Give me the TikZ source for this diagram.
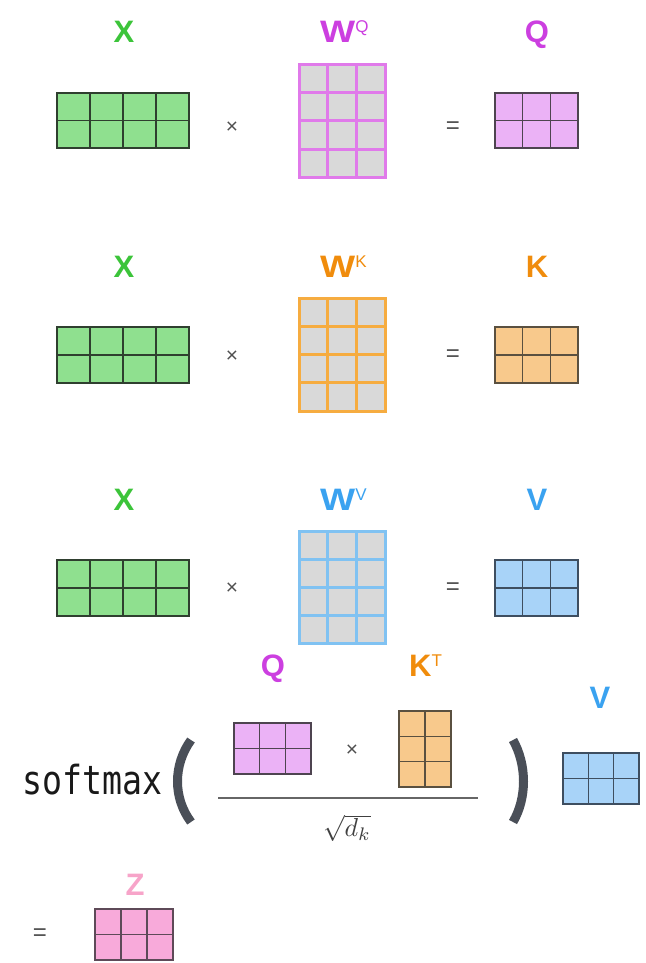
\documentclass[tikz,border=0pt]{standalone}
\usepackage{graphicx}
\usepackage{fontspec}
\setmainfont{Liberation Sans}
\newfontfamily\monof{DejaVu Sans Mono}
\definecolor{cgreen}{HTML}{3CC43A}
\definecolor{gfill}{HTML}{8FE08F}
\definecolor{gline}{HTML}{2F3F2F}
\definecolor{cmag}{HTML}{CC3FE0}
\definecolor{qfill}{HTML}{EBB2F6}
\definecolor{qline}{HTML}{4E4450}
\definecolor{wqline}{HTML}{E07AEA}
\definecolor{corange}{HTML}{F08C0C}
\definecolor{kfill}{HTML}{F8C98C}
\definecolor{kline}{HTML}{5A5040}
\definecolor{wkline}{HTML}{F6AC40}
\definecolor{cblue}{HTML}{3AA2F0}
\definecolor{vfill}{HTML}{A8D3F8}
\definecolor{vline}{HTML}{3E4E60}
\definecolor{wvline}{HTML}{80C2F2}
\definecolor{cpink}{HTML}{F7A4C9}
\definecolor{zfill}{HTML}{F8AADA}
\definecolor{zline}{HTML}{5E4A58}
\definecolor{wfill}{HTML}{D9D9D9}
\definecolor{opgray}{HTML}{505050}
\definecolor{pargray}{HTML}{4A4F58}
\newcommand\mgrid[7]{%
  \pgfmathsetmacro\mgdx{(#3-#1)/#5}%
  \pgfmathsetmacro\mgdy{(#4-#2)/#6}%
  \pgfmathtruncatemacro\mgc{#5-1}%
  \pgfmathtruncatemacro\mgr{#6-1}%
  \filldraw[#7] (#1,#2) rectangle (#3,#4);
  \foreach \k in {1,...,\mgc} \draw[#7] ({#1+\k*\mgdx},#2) -- ({#1+\k*\mgdx},#4);
  \foreach \k in {1,...,\mgr} \draw[#7] (#1,{#2+\k*\mgdy}) -- (#3,{#2+\k*\mgdy});
}
\begin{document}
\begin{tikzpicture}[x=1pt,y=-1pt,
  lbl/.style={font=\fontsize{31}{31}\selectfont\bfseries, inner sep=0pt, anchor=base},
  lblw/.style={lbl, anchor=base west},
  opx/.style={font=\fontsize{21}{21}\selectfont, text=opgray, inner sep=0pt},
  opeq/.style={font=\fontsize{24}{24}\selectfont, text=opgray, inner sep=0pt},
  gX/.style={fill=gfill, draw=gline, line width=1.3pt},
  gQ/.style={fill=qfill, draw=qline, line width=1.3pt},
  gK/.style={fill=kfill, draw=kline, line width=1.3pt},
  gV/.style={fill=vfill, draw=vline, line width=1.3pt},
  gZ/.style={fill=zfill, draw=zline, line width=1.3pt},
  gWQ/.style={fill=wfill, draw=wqline, line width=3pt},
  gWK/.style={fill=wfill, draw=wkline, line width=3pt},
  gWV/.style={fill=wfill, draw=wvline, line width=3pt},
  paren/.style={draw=pargray, line width=9pt}]
\useasboundingbox (0,0) rectangle (645,963);
\newcommand\sups[1]{\raisebox{10pt}{\fontsize{17}{17}\selectfont\mdseries #1}}
\newcommand\wideW{\scalebox{1.2}[1]{W}}
% ---------- row 1 ----------
\node[lbl, text=cgreen] (x1) at (124,43) {X};
\node[lblw, text=cmag] (wq) at (320,43) {\wideW\sups{Q}};
\node[lbl, text=cmag] (q1) at (537,43) {Q};
\mgrid{57}{93}{189}{148}{4}{2}{gX}
\mgrid{299}{65}{385}{177}{3}{4}{gWQ}
\mgrid{495}{93}{578}{148}{3}{2}{gQ}
\node[opx] (m1) at (232,128) {×};
\node[opeq] (e1) at (453,128) {=};
% ---------- row 2 ----------
\node[lbl, text=cgreen] (x2) at (124,277) {X};
\node[lblw, text=corange] (wk) at (320,277) {\wideW\sups{K}};
\node[lbl, text=corange] (k2) at (537,277) {K};
\mgrid{57}{327}{189}{383}{4}{2}{gX}
\mgrid{299}{298}{385}{411}{3}{4}{gWK}
\mgrid{495}{327}{578}{383}{3}{2}{gK}
\node[opx] (m2) at (232,357) {×};
\node[opeq] (e2) at (453,356) {=};
% ---------- row 3 ----------
\node[lbl, text=cgreen] (x3) at (124,510) {X};
\node[lblw, text=cblue] (wv) at (320,510) {\wideW\sups{V}};
\node[lbl, text=cblue] (v3) at (537,510) {V};
\mgrid{57}{560}{189}{616}{4}{2}{gX}
\mgrid{299}{531}{385}{643}{3}{4}{gWV}
\mgrid{495}{560}{578}{616}{3}{2}{gV}
\node[opx] (m3) at (232,589) {×};
\node[opeq] (e3) at (453,589) {=};
% ---------- attention ----------
\node[anchor=base west, inner sep=0pt, text=black!90] (sm) at (22,794)
  {\scalebox{0.83}[1]{\fontsize{40}{40}\selectfont\monof softmax}};
\draw[paren] (191,740) .. controls (173,765) and (173,798) .. (191,822);
\draw[paren] (513,740) .. controls (527,765) and (527,798) .. (513,822);
\node[lbl, text=cmag] (q4) at (273,676) {Q};
\node[lblw, text=corange] (kt) at (409,676) {K\sups{T}};
\node[lbl, text=cblue] (v4) at (600,708) {V};
\mgrid{234}{723}{311}{774}{3}{2}{gQ}
\mgrid{399}{711}{451}{787}{2}{3}{gK}
\mgrid{563}{753}{639}{804}{3}{2}{gV}
\node[opx] (m4) at (352,751) {×};
\coordinate (fl) at (218,798);
\coordinate (fr) at (478,798);
\draw[draw=black!60, line width=1.8pt] (fl) -- (fr);
\node[inner sep=0pt, text=black!75] (sq) at (347,828) {\scalebox{2.6}{$\sqrt{d_k}$}};
% ---------- result ----------
\node[opeq] (e5) at (40,935) {=};
\node[lbl, text=cpink] (zl) at (135,895) {Z};
\mgrid{95}{909}{173}{960}{3}{2}{gZ}
\end{tikzpicture}
\end{document}
